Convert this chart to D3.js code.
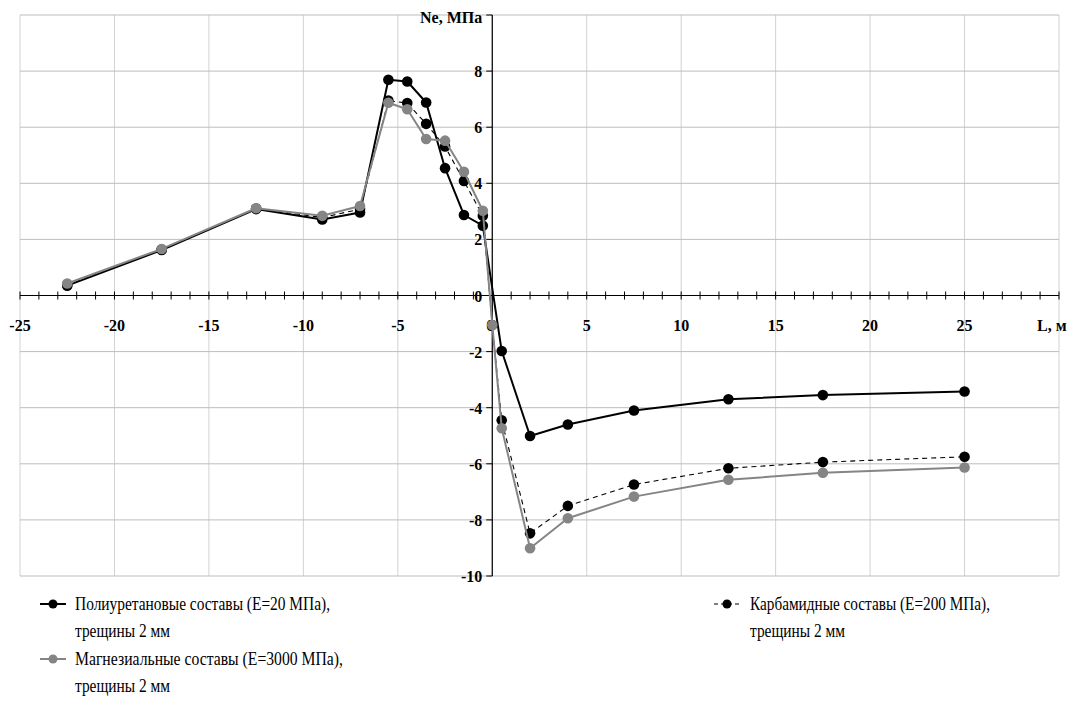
<!DOCTYPE html>
<html>
<head>
<meta charset="utf-8">
<script src="https://cdn.jsdelivr.net/npm/d3@7"></script>
<style>
  html, body { margin: 0; padding: 0; background: #fff; }
  svg { display: block; }
  .tick-label { font-family: "Liberation Serif", "Times New Roman", serif; font-weight: bold; font-size: 16px; }
  .legend-label { font-family: "Liberation Serif", "Times New Roman", serif; font-size: 18px; }
</style>
</head>
<body>
<svg id="chart" width="1075" height="709"></svg>
<script>
// ---- data ----
const polyX = [-22.5, -17.5, -12.5, -9, -7, -5.5, -4.5, -3.5, -2.5, -1.5, -0.5, 0.5, 2, 4, 7.5, 12.5, 17.5, 25];
const polyY = [0.35, 1.62, 3.08, 2.71, 2.96, 7.69, 7.63, 6.88, 4.54, 2.87, 2.49, -1.98, -5.01, -4.6, -4.1, -3.7, -3.55, -3.42];

const carbX = [-22.5, -17.5, -12.5, -9, -7, -5.5, -4.5, -3.5, -2.5, -1.5, -0.5, 0, 0.5, 2, 4, 7.5, 12.5, 17.5, 25];
const carbY = [0.38, 1.64, 3.1, 2.78, 3.08, 6.95, 6.86, 6.12, 5.31, 4.08, 2.84, -1.05, -4.45, -8.48, -7.5, -6.74, -6.16, -5.94, -5.75];

const magnX = [-22.5, -17.5, -12.5, -9, -7, -5.5, -4.5, -3.5, -2.5, -1.5, -0.5, 0, 0.5, 2, 4, 7.5, 12.5, 17.5, 25];
const magnY = [0.43, 1.66, 3.11, 2.84, 3.19, 6.87, 6.64, 5.58, 5.52, 4.41, 3.02, -1.05, -4.73, -9.01, -7.94, -7.17, -6.57, -6.32, -6.13];

const xTickLabels = [-25, -20, -15, -10, -5, 0, 5, 10, 15, 20, 25];
const yTickLabels = [-10, -8, -6, -4, -2, 0, 2, 4, 6, 8];
const xTitle = "L, м";
const yTitle = "Ne, МПа";
const legendNames = [
  ["Полиуретановые составы (E=20 МПа),", "трещины 2 мм"],
  ["Карбамидные составы (E=200 МПа),", "трещины 2 мм"],
  ["Магнезиальные составы (E=3000 МПа),", "трещины 2 мм"]
];

// ---- chart ----
const svg = d3.select("#chart");
const x = d3.scaleLinear().domain([-25, 30]).range([20, 1059]);
const y = d3.scaleLinear().domain([-10, 10]).range([576, 15]);

const series = [
  { xs: polyX, ys: polyY, color: "#000000", width: 2, dash: null, mcolor: "#000000" },
  { xs: carbX, ys: carbY, color: "#000000", width: 1.1, dash: "5,4", mcolor: "#000000" },
  { xs: magnX, ys: magnY, color: "#858585", width: 2, dash: null, mcolor: "#858585" }
];

// grid
const grid = svg.append("g");
grid.selectAll("line.v").data(d3.range(-25, 31, 5)).enter().append("line")
  .attr("x1", d => x(d)).attr("x2", d => x(d))
  .attr("y1", y(10)).attr("y2", y(-10))
  .attr("stroke", "#d2d2d2").attr("stroke-width", 1);
grid.selectAll("line.h").data(d3.range(-10, 11, 2)).enter().append("line")
  .attr("x1", x(-25)).attr("x2", x(30))
  .attr("y1", d => y(d)).attr("y2", d => y(d))
  .attr("stroke", "#bdbdbd").attr("stroke-width", 1);

// x axis (at y=0)
const xAxisG = svg.append("g").attr("transform", `translate(0,${y(0)})`);
xAxisG.append("line").attr("x1", x(-25)).attr("x2", x(30)).attr("y1", 0).attr("y2", 0)
  .attr("stroke", "#000").attr("stroke-width", 1.2);
xAxisG.selectAll("line.t").data(d3.range(-25, 31, 1)).enter().append("line")
  .attr("x1", d => x(d)).attr("x2", d => x(d))
  .attr("y1", -4).attr("y2", 4)
  .attr("stroke", "#000").attr("stroke-width", 1);
xAxisG.selectAll("text.l").data(xTickLabels).enter().append("text")
  .attr("class", "tick-label")
  .attr("x", d => x(d) + (d === 0 ? -2 : 0)).attr("y", 35)
  .attr("text-anchor", "middle")
  .text(d => d);
xAxisG.append("text").attr("class", "tick-label").attr("x", 1037).attr("y", 35).text(xTitle);

// y axis (at x=0)
const yAxisG = svg.append("g").attr("transform", `translate(${x(0)},0)`);
yAxisG.append("line").attr("x1", 0).attr("x2", 0).attr("y1", y(10)).attr("y2", y(-10))
  .attr("stroke", "#000").attr("stroke-width", 1.2);
yAxisG.selectAll("line.t").data(d3.range(-10, 11, 2)).enter().append("line")
  .attr("x1", -6).attr("x2", 0)
  .attr("y1", d => y(d)).attr("y2", d => y(d))
  .attr("stroke", "#000").attr("stroke-width", 1);
yAxisG.selectAll("text.l").data(yTickLabels).enter().append("text")
  .attr("class", "tick-label")
  .attr("x", -10).attr("y", d => y(d) + 6)
  .attr("text-anchor", "end")
  .text(d => d);
yAxisG.append("text").attr("class", "tick-label").attr("x", -10).attr("y", y(10) + 8)
  .attr("text-anchor", "end").text(yTitle);

// series
const line = d3.line().x(d => x(d[0])).y(d => y(d[1]));
series.forEach(s => {
  const pts = s.xs.map((v, i) => [v, s.ys[i]]);
  const g = svg.append("g");
  g.append("path").datum(pts).attr("d", line)
    .attr("fill", "none").attr("stroke", s.color).attr("stroke-width", s.width)
    .attr("stroke-dasharray", s.dash).attr("stroke-linejoin", "round");
  g.selectAll("circle").data(pts).enter().append("circle")
    .attr("cx", d => x(d[0])).attr("cy", d => y(d[1])).attr("r", 5.3)
    .attr("fill", s.mcolor);
});

// legend
const legendPos = [
  { sx: 40, tx: 75, ty: 610 },
  { sx: 714, tx: 750, ty: 610 },
  { sx: 40, tx: 75, ty: 665 }
];
const legendWidths = [[255, 95], [240, 95], [268, 95]];
series.forEach((s, i) => {
  const p = legendPos[i];
  const g = svg.append("g");
  const cy = p.ty - 6;
  g.append("line").attr("x1", p.sx).attr("x2", p.sx + 26).attr("y1", cy).attr("y2", cy)
    .attr("stroke", s.color).attr("stroke-width", s.dash ? 1.1 : 2)
    .attr("stroke-dasharray", s.dash ? "4,3" : null);
  g.append("circle").attr("cx", p.sx + 13).attr("cy", cy).attr("r", 4.5).attr("fill", s.mcolor);
  legendNames[i].forEach((t, j) => {
    g.append("text").attr("class", "legend-label").attr("x", p.tx).attr("y", p.ty + j * 27)
      .attr("textLength", legendWidths[i][j]).attr("lengthAdjust", "spacingAndGlyphs")
      .text(t);
  });
});
</script>
</body>
</html>
